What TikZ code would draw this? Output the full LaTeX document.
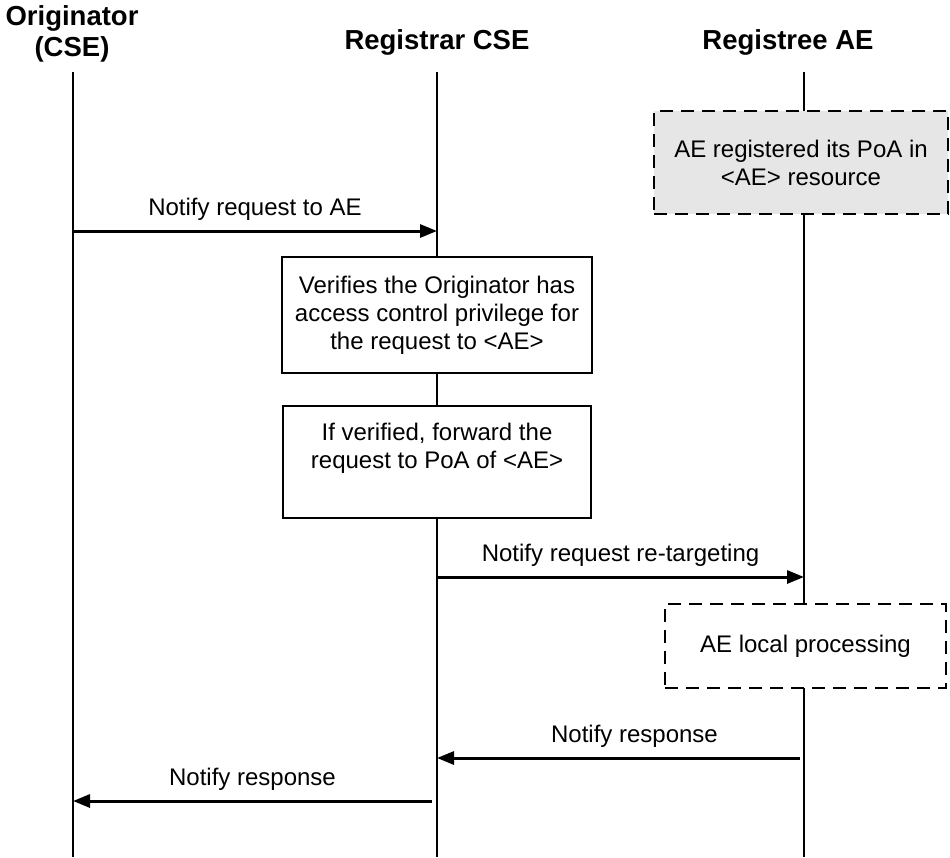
\documentclass[tikz,border=0pt]{standalone}
\usepackage{fontspec}
\setmainfont{Liberation Sans}
\usetikzlibrary{arrows.meta}

\definecolor{regfill}{RGB}{230,230,230}

\tikzset{
  lifeline/.style={line width=2pt},
  msg/.style={line width=3pt, -{Triangle[length=17pt,width=13pt]}},
  msglabel/.style={above=6pt},
  head/.style={font=\fontsize{27.5}{31}\selectfont\bfseries, align=center},
  actbox/.style={draw, line width=2pt, fill=white, align=center, inner sep=0pt},
  dashbox/.style={actbox, dash pattern=on 13pt off 8pt},
}

\begin{document}
\begin{tikzpicture}[x=1pt, y=-1pt, font=\fontsize{24}{28}\selectfont]
\useasboundingbox (0,0) rectangle (950,857);

\node[head] (orig) at (72,34) {Originator\\(CSE)};
\node[head] (regcse) at (437,42) {Registrar CSE};
\node[head] (regae) at (788,42) {Registree AE};

\coordinate (o0) at (73,72);   \coordinate (o1) at (73,857);
\coordinate (c0) at (437,72);  \coordinate (c1) at (437,857);
\coordinate (a0) at (804,72);  \coordinate (a1) at (804,857);

\draw[lifeline] (o0) -- (o1);
\draw[lifeline] (c0) -- (c1);
\draw[lifeline] (a0) -- (a1);

\node[dashbox, fill=regfill, minimum width=294pt, minimum height=103pt] (poa) at (801,162.5)
  {AE registered its PoA in\\<AE> resource};

\draw[msg] (o0 |- 0,231) coordinate (m1) -- node[msglabel] {Notify request to AE} (c0 |- m1);

\node[actbox, minimum width=310pt, minimum height=116pt] (verify) at (437,315)
  {Verifies the Originator has\\access control privilege for\\the request to <AE>};
\node[actbox, minimum width=308pt, minimum height=112pt] (forward) at (437,462)
  {If verified, forward the\\request to PoA of <AE>\\[4pt]};

\draw[msg] (c0 |- 0,577) coordinate (m2) -- node[msglabel] {Notify request re-targeting} (a0 |- m2);

\node[dashbox, minimum width=281pt, minimum height=84pt] (local) at (805.5,646)
  {AE local processing};

\draw[msg] (800,758) coordinate (m3) -- node[msglabel, xshift=16pt] {Notify response} (c0 |- m3);
\draw[msg] (432,801) coordinate (m4) -- node[msglabel] {Notify response} (o0 |- m4);

\end{tikzpicture}
\end{document}
